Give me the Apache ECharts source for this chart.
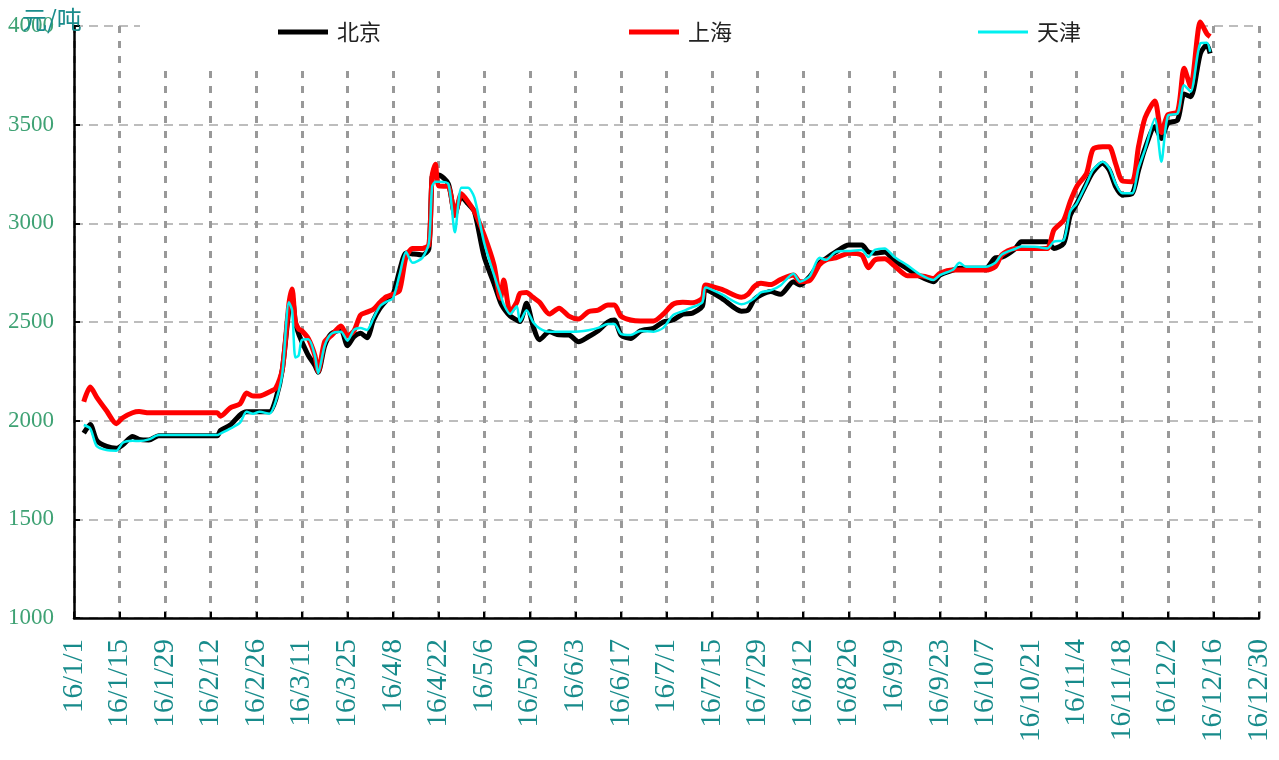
<!DOCTYPE html>
<html><head><meta charset="utf-8">
<script src="https://cdn.jsdelivr.net/npm/echarts@6/dist/echarts.min.js"></script>
<style>html,body{margin:0;padding:0;background:#fff}#c{width:1279px;height:760px}</style>
</head><body><div id="c"></div>
<script>
const dates = ['2016-01-04','2016-01-06','2016-01-08','2016-01-11','2016-01-14','2016-01-16','2016-01-19','2016-01-21','2016-01-24','2016-01-27',
'2016-02-03','2016-02-10','2016-02-14','2016-02-15','2016-02-18','2016-02-21','2016-02-23','2016-02-25','2016-02-27','2016-03-01',
'2016-03-03','2016-03-05','2016-03-07','2016-03-08','2016-03-09','2016-03-10','2016-03-11','2016-03-13','2016-03-15','2016-03-16',
'2016-03-18','2016-03-20','2016-03-23','2016-03-25','2016-03-27','2016-03-29','2016-03-31','2016-04-02','2016-04-04','2016-04-06',
'2016-04-08','2016-04-10','2016-04-12','2016-04-14','2016-04-17','2016-04-19','2016-04-20','2016-04-21','2016-04-22','2016-04-25',
'2016-04-27','2016-04-29','2016-05-01','2016-05-03','2016-05-06','2016-05-09','2016-05-11','2016-05-12','2016-05-14','2016-05-16',
'2016-05-17','2016-05-19','2016-05-21','2016-05-23','2016-05-26','2016-05-29','2016-06-01','2016-06-04','2016-06-07','2016-06-10',
'2016-06-13','2016-06-15','2016-06-17','2016-06-20','2016-06-23','2016-06-27','2016-06-30','2016-07-03','2016-07-06','2016-07-09',
'2016-07-12','2016-07-13','2016-07-18','2016-07-24','2016-07-26','2016-07-28','2016-07-30','2016-08-02','2016-08-05','2016-08-09',
'2016-08-11','2016-08-14','2016-08-17','2016-08-19','2016-08-22','2016-08-26','2016-08-30','2016-09-01','2016-09-03','2016-09-06',
'2016-09-09','2016-09-13','2016-09-17','2016-09-21','2016-09-23','2016-09-27','2016-09-29','2016-10-01','2016-10-07','2016-10-10',
'2016-10-12','2016-10-16','2016-10-18','2016-10-23','2016-10-26','2016-10-28','2016-10-31','2016-11-02','2016-11-04','2016-11-07',
'2016-11-09','2016-11-12','2016-11-14','2016-11-16','2016-11-18','2016-11-21','2016-11-23','2016-11-25','2016-11-28','2016-11-30',
'2016-12-02','2016-12-05','2016-12-07','2016-12-09','2016-12-12','2016-12-14','2016-12-15'];

const beijing = [1937,1980,1900,1870,1860,1878,1920,1905,1902,1924,
1924,1924,1924,1950,1978,2029,2045,2045,2045,2045,
2110,2260,2560,2628,2500,2440,2400,2330,2280,2245,
2380,2440,2460,2380,2426,2443,2420,2510,2570,2610,
2640,2760,2850,2845,2840,2870,3236,3245,3245,3200,
3050,3135,3100,3060,2830,2696,2600,2570,2530,2510,
2502,2595,2480,2410,2450,2435,2434,2400,2425,2455,
2500,2510,2434,2417,2455,2468,2500,2510,2540,2545,
2580,2665,2620,2555,2560,2615,2637,2654,2640,2704,
2688,2730,2800,2822,2855,2890,2890,2855,2848,2855,
2812,2770,2730,2704,2738,2763,2772,2772,2772,2825,
2828,2870,2907,2907,2907,2873,2898,3040,3100,3200,
3260,3304,3270,3185,3144,3150,3270,3380,3490,3430,
3507,3524,3655,3642,3861,3905,3861];

const shanghai = [2096,2170,2118,2050,1985,2015,2040,2046,2040,2040,
2040,2040,2040,2023,2065,2085,2140,2125,2125,2145,
2165,2260,2590,2667,2500,2465,2455,2415,2330,2250,
2400,2430,2480,2430,2455,2535,2550,2565,2600,2628,
2640,2660,2830,2873,2873,2890,3240,3300,3190,3186,
3040,3150,3110,3060,2940,2790,2620,2713,2550,2600,
2645,2650,2625,2600,2540,2570,2530,2515,2552,2560,
2586,2586,2530,2510,2505,2505,2540,2590,2600,2598,
2620,2688,2665,2625,2640,2680,2696,2690,2715,2738,
2704,2710,2790,2815,2825,2848,2838,2775,2814,2820,
2785,2735,2735,2721,2747,2763,2763,2763,2763,2780,
2840,2873,2873,2873,2873,2966,3016,3110,3186,3253,
3375,3388,3388,3300,3215,3211,3390,3535,3620,3460,
3550,3566,3786,3693,4020,3960,3946];

const tianjin = [1978,1960,1870,1851,1848,1888,1898,1897,1905,1927,
1927,1927,1927,1935,1960,1990,2045,2035,2045,2035,
2100,2240,2600,2560,2320,2330,2409,2412,2330,2240,
2380,2440,2451,2405,2460,2470,2460,2520,2580,2603,
2620,2740,2855,2800,2825,2900,3186,3211,3211,3200,
2955,3180,3180,3130,2900,2740,2640,2590,2540,2580,
2502,2560,2500,2468,2451,2451,2451,2452,2458,2470,
2490,2490,2440,2434,2455,2451,2470,2535,2555,2575,
2600,2675,2640,2590,2600,2620,2650,2660,2685,2745,
2704,2732,2825,2815,2855,2860,2865,2830,2865,2873,
2830,2787,2740,2713,2738,2765,2800,2780,2780,2800,
2842,2870,2882,2880,2873,2907,2915,3060,3100,3200,
3270,3312,3280,3200,3152,3152,3280,3375,3530,3312,
3545,3557,3700,3667,3912,3915,3869];

const seriesNames = ['北京','上海','天津'];
const seriesColors = ['#000000','#ff0000','#00f0f0'];
const yTickValues = [1000,1500,2000,2500,3000,3500,4000];
const unitLabel = '元/吨';

const DAY = 86400000, T0 = Date.UTC(2016,0,1);
function dayIndex(s){ return Math.round((Date.parse(s) - T0) / DAY); }
function pairs(vals){ return dates.map((d,i) => [dayIndex(d), vals[i]]); }
function fmt(v){ const dt = new Date(T0 + v*DAY); return '16/' + (dt.getUTCMonth()+1) + '/' + dt.getUTCDate(); }

const chart = echarts.init(document.getElementById('c'), null, {renderer:'canvas'});
const legendBase = {icon:'rect', itemWidth:50, top:16, textStyle:{fontSize:22, color:'#222', fontFamily:'Noto Sans CJK SC', padding:[0,0,0,4]}};
chart.setOption({
  animation:false,
  backgroundColor:'#fff',
  grid:{left:74, right:20, top:26, bottom:142, containLabel:false},
  legend:[
    Object.assign({}, legendBase, {data:[seriesNames[0]], left:273, itemHeight:5}),
    Object.assign({}, legendBase, {data:[seriesNames[1]], left:624, itemHeight:5}),
    Object.assign({}, legendBase, {data:[seriesNames[2]], left:973, itemHeight:3})
  ],
  graphic:[
    {type:'rect', shape:{x:140, y:0, width:1058, height:66}, style:{fill:'#fff'}, z:1, silent:true},
    {type:'text', left:22, top:7, z:10, style:{text:unitLabel, fontSize:25, fill:'#1a8c8c', fontFamily:'Noto Sans CJK SC'}}
  ],
  xAxis:{
    type:'value', min:0, max:364, interval:14,
    axisLine:{show:true, lineStyle:{color:'#000', width:2.5}},
    axisTick:{show:true, inside:true, length:6, lineStyle:{color:'#000', width:2}},
    axisLabel:{rotate:90, margin:21, color:'#178b8b', fontSize:29, fontFamily:'Liberation Serif', formatter:fmt},
    splitLine:{show:true, lineStyle:{color:'#999', width:3, type:[7,8]}}
  },
  yAxis:{
    type:'value', min:yTickValues[0], max:yTickValues[yTickValues.length-1], interval:500,
    axisLine:{show:true, lineStyle:{color:'#000', width:2.5}},
    axisTick:{show:true, inside:true, length:6, lineStyle:{color:'#000', width:2}},
    axisLabel:{margin:20, color:'#3fa274', fontSize:23, fontFamily:'Liberation Serif', formatter:v => String(v)},
    splitLine:{show:true, lineStyle:{color:'#bdbdbd', width:2, type:[9,6]}}
  },
  series:[
    {name:seriesNames[0], type:'line', data:pairs(beijing), showSymbol:false, symbol:'none', smooth:0.25, clip:false,
      lineStyle:{color:seriesColors[0], width:5, join:'round'}, itemStyle:{color:seriesColors[0]}},
    {name:seriesNames[1], type:'line', data:pairs(shanghai), showSymbol:false, symbol:'none', smooth:0.25, clip:false,
      lineStyle:{color:seriesColors[1], width:5, join:'round'}, itemStyle:{color:seriesColors[1]}},
    {name:seriesNames[2], type:'line', data:pairs(tianjin), showSymbol:false, symbol:'none', smooth:0.25, clip:false,
      lineStyle:{color:seriesColors[2], width:2.5, join:'round'}, itemStyle:{color:seriesColors[2]}}
  ]
});
</script></body></html>
